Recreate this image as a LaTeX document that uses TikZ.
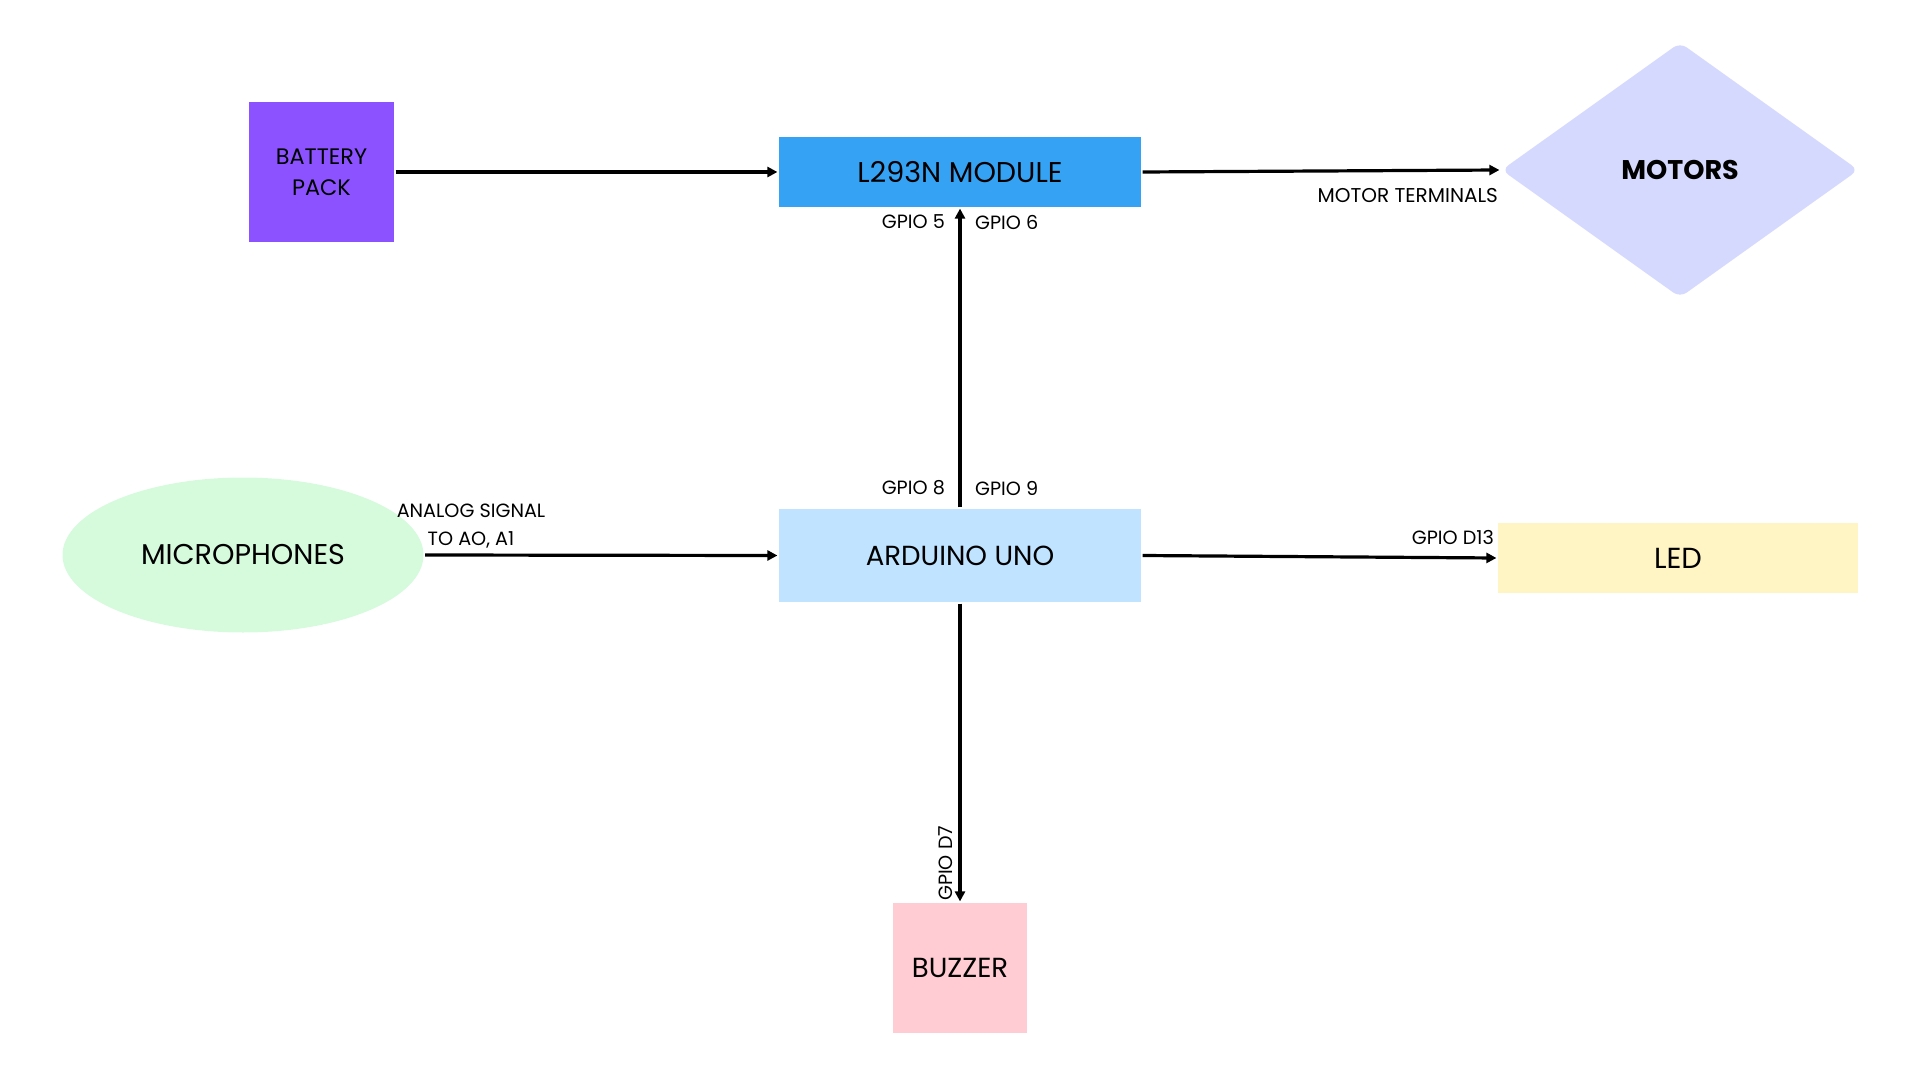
\documentclass[tikz,border=0pt]{standalone}
\usepackage{fontspec}
\setmainfont{Poppins}
\usetikzlibrary{shapes.geometric,arrows.meta}

\definecolor{batteryPurple}{HTML}{8C52FF}
\definecolor{driverBlue}{HTML}{36A2F4}
\definecolor{motorLavender}{HTML}{D6D9FE}
\definecolor{micGreen}{HTML}{D5FBDC}
\definecolor{unoBlue}{HTML}{C0E4FF}
\definecolor{ledYellow}{HTML}{FFF5C4}
\definecolor{buzzerPink}{HTML}{FFCCD3}

\tikzset{every picture/.style={line width=1.6pt}}
\tikzset{
  blk/.style={draw=none, inner sep=0pt, align=center, font=\fontsize{13.8}{16}\selectfont},
  lbl/.style={inner sep=0.75pt, font=\fontsize{9.6}{14}\selectfont},
  conn/.style={-{Triangle[length=5pt,width=5pt]}},
}

\begin{document}
\begin{tikzpicture}[x=0.5pt,y=0.5pt,yscale=-1,xscale=1]
\useasboundingbox (0,0) rectangle (1920,1080);

%Shape: Rectangle
\node [blk, fill=batteryPurple, minimum width=72.5pt, minimum height=70pt, font=\fontsize{11.2}{15.5}\selectfont] (battery) at (321.5,172) {BATTERY\\PACK};
%Shape: Rectangle
\node [blk, fill=driverBlue, minimum width=181pt, minimum height=35pt, font=\fontsize{14.3}{16}\selectfont] (l293n) at (960,172) {L293N MODULE};
%Shape: Diamond
\node [blk, diamond, fill=motorLavender, rounded corners=4pt, minimum width=179pt, minimum height=128pt, font=\bfseries\fontsize{13.5}{16}\selectfont] (motors) at (1680,170) {MOTORS};
%Shape: Ellipse
\node [blk, ellipse, fill=micGreen, minimum width=180.5pt, minimum height=77.5pt, font=\fontsize{14.3}{16}\selectfont] (mic) at (243,555) {MICROPHONES};
%Shape: Rectangle
\node [blk, fill=unoBlue, minimum width=181pt, minimum height=46.5pt] (uno) at (960,555.5) {ARDUINO UNO};
%Shape: Rectangle
\node [blk, fill=ledYellow, minimum width=180pt, minimum height=35pt, font=\fontsize{14.5}{16}\selectfont] (led) at (1678,558) {LED};
%Shape: Rectangle
\node [blk, fill=buzzerPink, minimum width=67pt, minimum height=65pt] (buzzer) at (960,968) {BUZZER};

%Straight Lines
\draw [conn] (battery.east) -- (l293n.west);
%Straight Lines
\draw [conn] (l293n.east) -- (motors.west);
%Straight Lines
\draw [conn] (uno.north) -- (l293n.south);
%Straight Lines
\draw [conn] (mic.east) -- (uno.west);
%Straight Lines
\draw [conn] (uno.east) -- (led.west);
%Straight Lines
\draw [conn] (uno.south) -- (buzzer.north);

% Text Node
\node [lbl, anchor=east] (gpioA) at (948,222) {GPIO 5};
% Text Node
\node [lbl, anchor=west] (gpioB) at (972,222) {GPIO 6};
% Text Node
\node [lbl, anchor=east] (gpioC) at (948,488) {GPIO 8};
% Text Node
\node [lbl, anchor=west] (gpioD) at (972,488) {GPIO 9};
% Text Node
\node [lbl, anchor=east, font=\fontsize{10}{14}\selectfont] (terminals) at (1501,196) {MOTOR TERMINALS};
% Text Node
\node [lbl, align=center] (analog) at (471,526) {ANALOG SIGNAL\\TO AO, A1};
% Text Node
\node [lbl, anchor=east] (gpioLed) at (1497,537) {GPIO D13};
% Text Node
\node [lbl, anchor=west, rotate=90] (gpioBuzz) at (946,904) {GPIO D7};

\end{tikzpicture}
\end{document}
